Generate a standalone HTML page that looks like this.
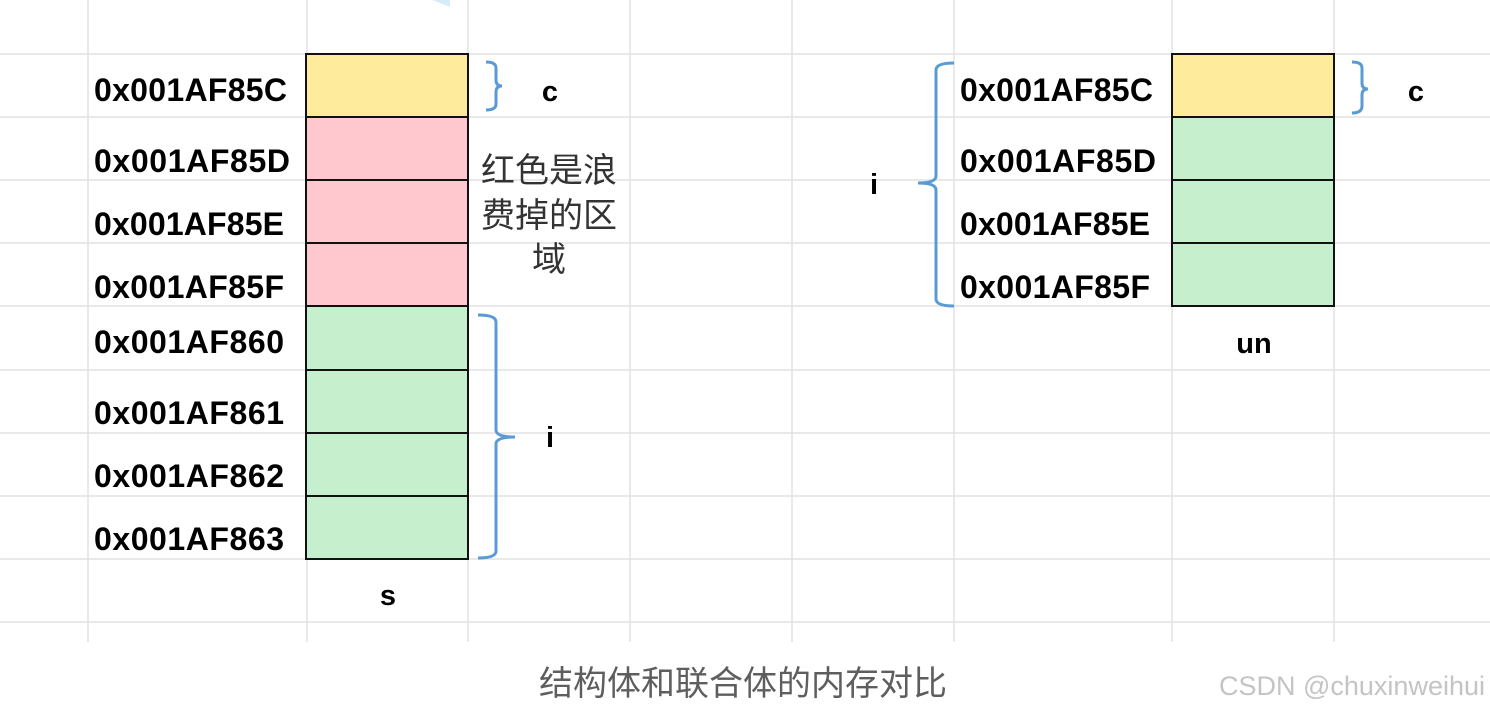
<!DOCTYPE html>
<html><head><meta charset="utf-8"><style>
html,body{margin:0;padding:0;background:#fff;width:1490px;height:711px;overflow:hidden}
svg{display:block}
.a{font-family:"Liberation Sans",sans-serif;font-weight:bold;font-size:32px;fill:#000}
.z{font-family:"Liberation Sans","Noto Sans CJK SC",sans-serif;font-size:34px;fill:#333}
</style></head><body>
<svg width="1490" height="711" xmlns="http://www.w3.org/2000/svg">
<g stroke="#e2e2e2" stroke-width="1.5">
<line x1="88" y1="0" x2="88" y2="642"/><line x1="307" y1="0" x2="307" y2="642"/>
<line x1="468" y1="0" x2="468" y2="642"/><line x1="630" y1="0" x2="630" y2="642"/>
<line x1="792" y1="0" x2="792" y2="642"/><line x1="954" y1="0" x2="954" y2="642"/>
<line x1="1172" y1="0" x2="1172" y2="642"/><line x1="1334" y1="0" x2="1334" y2="642"/>
<line x1="0" y1="54" x2="1490" y2="54"/><line x1="0" y1="117" x2="1490" y2="117"/>
<line x1="0" y1="180" x2="1490" y2="180"/><line x1="0" y1="243" x2="1490" y2="243"/>
<line x1="0" y1="306" x2="1490" y2="306"/><line x1="0" y1="370" x2="1490" y2="370"/>
<line x1="0" y1="433" x2="1490" y2="433"/><line x1="0" y1="496" x2="1490" y2="496"/>
<line x1="0" y1="559" x2="1490" y2="559"/><line x1="0" y1="622" x2="1490" y2="622"/>
</g>
<path d="M432 0 L450 0 L450 7 L440 3 Z" fill="#d6ecf8"/>
<g stroke="#111" stroke-width="2">
<rect x="306" y="54" width="162" height="63" fill="#ffeb9c"/>
<rect x="306" y="117" width="162" height="63" fill="#ffc7ce"/>
<rect x="306" y="180" width="162" height="63" fill="#ffc7ce"/>
<rect x="306" y="243" width="162" height="63" fill="#ffc7ce"/>
<rect x="306" y="306" width="162" height="64" fill="#c6efce"/>
<rect x="306" y="370" width="162" height="63" fill="#c6efce"/>
<rect x="306" y="433" width="162" height="63" fill="#c6efce"/>
<rect x="306" y="496" width="162" height="63" fill="#c6efce"/>
<rect x="1172" y="54" width="162" height="63" fill="#ffeb9c"/>
<rect x="1172" y="117" width="162" height="63" fill="#c6efce"/>
<rect x="1172" y="180" width="162" height="63" fill="#c6efce"/>
<rect x="1172" y="243" width="162" height="63" fill="#c6efce"/>
</g>
<g fill="none" stroke="#5b9bd5" stroke-width="3">
<path d="M486 62 Q496 62 496 68 L496 80 Q496 86 502 86 Q496 86 496 92 L496 104 Q496 110 486 110"/>
<path d="M478 315 Q496 315 496 322 L496 430 Q496 437 515 437 Q496 437 496 444 L496 551 Q496 558 478 558"/>
<path d="M1352 62 Q1362 62 1362 68 L1362 83 Q1362 89 1368 89 Q1362 89 1362 95 L1362 106 Q1362 113 1352 113"/>
<path d="M954 63 Q936 63 936 70 L936 176 Q936 183 918 183 Q936 183 936 190 L936 299 Q936 306 954 306"/>
</g>
<g class="a">
<text x="94" y="101" textLength="193">0x001AF85C</text>
<text x="94" y="172" textLength="196">0x001AF85D</text>
<text x="94" y="235" textLength="190">0x001AF85E</text>
<text x="94" y="298" textLength="190">0x001AF85F</text>
<text x="94" y="353" textLength="190">0x001AF860</text>
<text x="94" y="424" textLength="190">0x001AF861</text>
<text x="94" y="487" textLength="190">0x001AF862</text>
<text x="94" y="550" textLength="190">0x001AF863</text>
<text x="960" y="101" textLength="193">0x001AF85C</text>
<text x="960" y="172" textLength="196">0x001AF85D</text>
<text x="960" y="235" textLength="190">0x001AF85E</text>
<text x="960" y="298" textLength="190">0x001AF85F</text>
<text x="550" y="101" text-anchor="middle" font-size="29">c</text>
<text x="1416" y="101" text-anchor="middle" font-size="29">c</text>
<text x="550" y="447" text-anchor="middle" font-size="29">i</text>
<text x="874" y="194" text-anchor="middle" font-size="29">i</text>
<text x="388" y="605" text-anchor="middle" font-size="29">s</text>
<text x="1254" y="353" text-anchor="middle" font-size="29">un</text>
</g>
<g class="z" text-anchor="middle">
<text x="549" y="182">红色是浪</text>
<text x="549" y="227">费掉的区</text>
<text x="549" y="271">域</text>
<text x="743" y="695" style="fill:#5e5e5e">结构体和联合体的内存对比</text>
</g>
<text x="1485" y="695" text-anchor="end" font-family="Liberation Sans,sans-serif" font-size="27" fill="#c4c4c4">CSDN @chuxinweihui</text>
</svg>
</body></html>
